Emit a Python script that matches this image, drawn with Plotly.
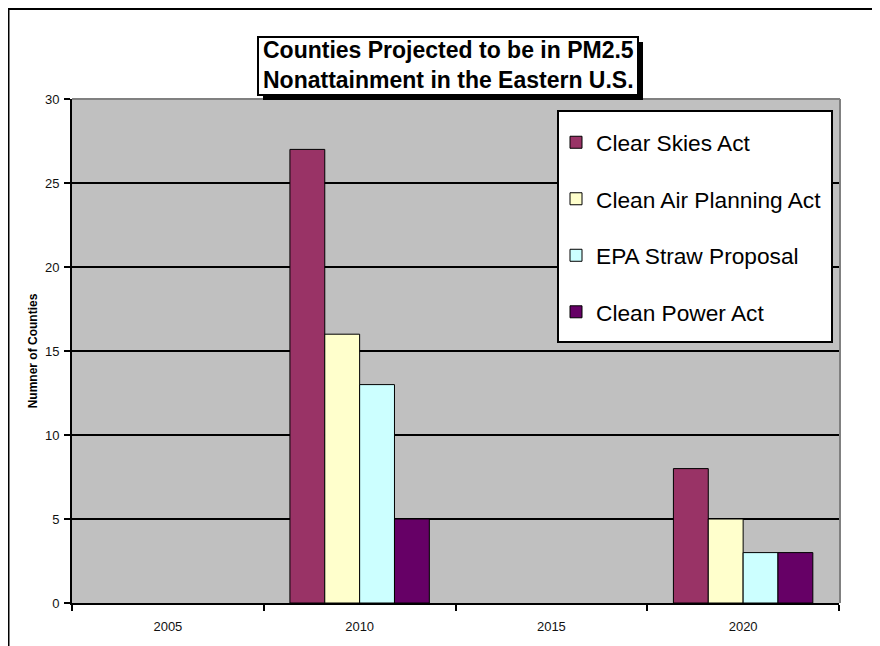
import plotly.graph_objects as go

years = ["2005", "2010", "2015", "2020"]
series_names = ["Clear Skies Act", "Clean Air Planning Act", "EPA Straw Proposal", "Clean Power Act"]
clear_skies = [None, 27, None, 8]
clean_air_planning = [None, 16, None, 5]
epa_straw = [None, 13, None, 3]
clean_power = [None, 5, None, 3]
series_values = [clear_skies, clean_air_planning, epa_straw, clean_power]
series_colors = ["#993366", "#FFFFCC", "#CCFFFF", "#660066"]

PAGE_OFF = 8  # default body margin of the html page
W, H = 880 - PAGE_OFF, 646 - PAGE_OFF
L, R, T, B = 72, 839, 99, 603  # plot area in page pixels


def px(x):
    return (x - L) / (R - L)


def py(y):
    return (B - y) / (B - T)


FONT = "Liberation Sans, Arial, sans-serif"

fig = go.Figure()
for i, (name, vals, col) in enumerate(zip(series_names, series_values, series_colors)):
    fig.add_trace(go.Bar(
        x=years, y=vals, name=name, legendgroup=f"g{i}",
        marker=dict(color=col, line=dict(color="black", width=1)),
    ))

shapes = []
# plot area gray border (top and right)
shapes.append(dict(type="line", xref="paper", yref="paper", x0=0, x1=px(R + 1), y0=1, y1=1,
                   line=dict(color="#808080", width=2), layer="above"))
shapes.append(dict(type="line", xref="paper", yref="paper", x0=px(R + 1), x1=px(R + 1), y0=0, y1=1,
                   line=dict(color="#808080", width=2), layer="above"))
# outer chart border
shapes.append(dict(type="line", xref="paper", yref="paper", x0=px(8.5), x1=px(8.5), y0=py(9), y1=py(650),
                   line=dict(color="black", width=2), layer="above"))
shapes.append(dict(type="line", xref="paper", yref="paper", x0=px(8), x1=px(873), y0=py(9), y1=py(9),
                   line=dict(color="black", width=2), layer="above"))
shapes.append(dict(type="line", xref="paper", yref="paper", x0=px(873), x1=px(873), y0=py(9), y1=py(30),
                   line=dict(color="black", width=2), layer="above"))
# title box shadow + box
shapes.append(dict(type="rect", xref="paper", yref="paper", x0=px(263), x1=px(643), y0=py(42), y1=py(100),
                   fillcolor="black", line=dict(width=0), layer="above"))
shapes.append(dict(type="rect", xref="paper", yref="paper", x0=px(258), x1=px(638), y0=py(37), y1=py(95),
                   fillcolor="white", line=dict(color="black", width=2), layer="above"))
# legend box
shapes.append(dict(type="rect", xref="paper", yref="paper", x0=px(558), x1=px(832), y0=py(111), y1=py(342),
                   fillcolor="white", line=dict(color="black", width=2), layer="above"))

fig.update_layout(
    width=W, height=H,
    margin=dict(l=L - PAGE_OFF, r=880 - R, t=T - PAGE_OFF, b=646 - B, pad=0),
    paper_bgcolor="white", plot_bgcolor="#C0C0C0",
    font=dict(family=FONT, color="black", size=13),
    barmode="group", bargap=0.273, bargroupgap=0,
    showlegend=True,
    legend=dict(
        x=px(556), y=py(121), xanchor="left", yanchor="top",
        bgcolor="rgba(0,0,0,0)", borderwidth=0,
        font=dict(family=FONT, size=22.7, color="black"),
        traceorder="grouped", tracegroupgap=24,
    ),
    shapes=shapes,
    annotations=[dict(
        xref="paper", yref="paper", x=px(448), y=py(64.5), xanchor="center", yanchor="middle",
        text="<b>Counties Projected to be in PM2.5<br>Nonattainment in the Eastern U.S.</b>",
        showarrow=False, font=dict(family=FONT, size=23, color="black"), align="center",
    )],
    xaxis=dict(
        type="category", range=[-0.5, 3.5],
        showline=True, linecolor="black", linewidth=2,
        ticks="outside", tickson="boundaries", ticklen=6, tickwidth=1.5, tickcolor="black",
        showgrid=False, ticklabelstandoff=10,
        tickfont=dict(family=FONT, size=13, color="#111"),
    ),
    yaxis=dict(
        range=[0, 30], dtick=5, tick0=0,
        showline=True, linecolor="black", linewidth=2,
        ticks="outside", ticklen=6, tickwidth=1.5, tickcolor="black",
        showgrid=True, gridcolor="black", gridwidth=1.5, zeroline=False,
        ticklabelstandoff=2,
        tickfont=dict(family=FONT, size=13, color="#111"),
        title=dict(text="<b>Numner of Counties</b>", font=dict(family=FONT, size=12, color="black"), standoff=5),
    ),
)

fig.write_html("out.html")
